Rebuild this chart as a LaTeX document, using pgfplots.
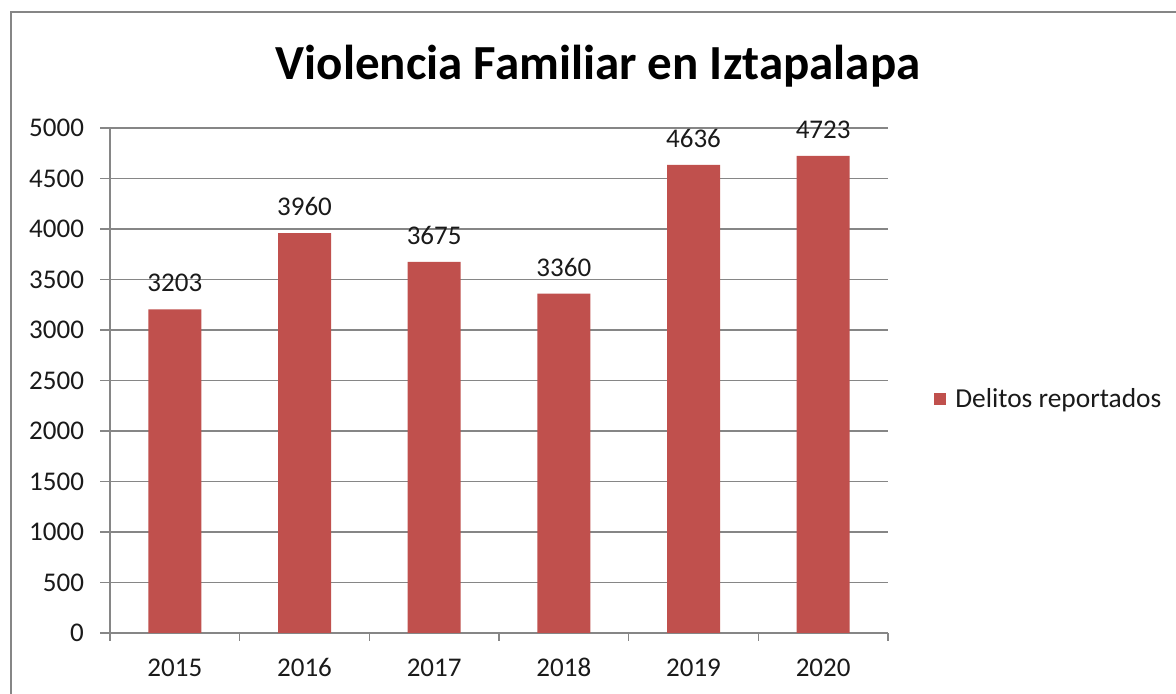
\documentclass[border=0pt]{standalone}
\usepackage{fontspec}
\setmainfont{Carlito}
\usepackage{pgfplots}
\pgfplotsset{compat=1.18}
\definecolor{barred}{HTML}{C0504D}
\definecolor{gridgray}{HTML}{868686}
\definecolor{txt}{HTML}{1A1A1A}
\begin{document}
\begin{tikzpicture}
\useasboundingbox (0,0) rectangle (588pt,347pt);
\fill[white] (0,0) rectangle (588pt,347pt);
\draw[gridgray, line width=1pt] (5.5pt,-5pt) -- (5.5pt,341pt) -- (600pt,341pt);
\node[font=\bfseries\fontsize{24.5}{28}\selectfont, text=black] at (299pt,314pt) {Violencia Familiar en Iztapalapa};
\begin{axis}[
  at={(55pt,30.5pt)}, anchor=south west,
  scale only axis, width=389pt, height=252.5pt,
  xmin=-0.5, xmax=5.5, ymin=0, ymax=5000,
  ybar, bar width=26.5pt,
  axis lines*=left,
  axis line style={gridgray, line width=0.6pt},
  xtick={0,1,2,3,4,5}, xticklabels={2015,2016,2017,2018,2019,2020},
  major x tick style={draw=none},
  extra x ticks={-0.5,0.5,1.5,2.5,3.5,4.5,5.5}, extra x tick labels={},
  extra x tick style={major tick length=4pt, tick align=outside, xmajorgrids=false, major x tick style={draw=gridgray, line width=0.6pt}},
  ytick={0,500,...,5000},
  ymajorgrids, grid style={gridgray, line width=0.6pt},
  major y tick style={draw=gridgray, line width=0.6pt},
  major tick length=5pt, tick align=outside,
  /pgf/number format/assume math mode=true,
  /pgf/number format/set thousands separator={},
  tick label style={font=\fontsize{13.5}{16}\selectfont, text=txt},
  xticklabel style={anchor=base, inner sep=0pt, yshift=-17pt},
  yticklabel style={xshift=-4.5pt},
  nodes near coords,
  every node near coord/.append style={font=\fontsize{13.5}{16}\selectfont, text=txt, anchor=south, inner sep=0pt, yshift=8.5pt},
  legend style={at={(1.059,0.463)}, anchor=west, draw=none, fill=none, font=\fontsize{13.7}{16}\selectfont, text=txt, inner sep=0pt},
  legend image code/.code={\fill[barred] (0pt,-3pt) rectangle (6pt,3pt);},
  legend cell align=left,
]
\addplot[fill=barred, draw=none] coordinates {(0,3203) (1,3960) (2,3675) (3,3360) (4,4636) (5,4723)};
\addlegendentry{\hspace{2.5pt}Delitos reportados}
\end{axis}
\end{tikzpicture}
\end{document}
